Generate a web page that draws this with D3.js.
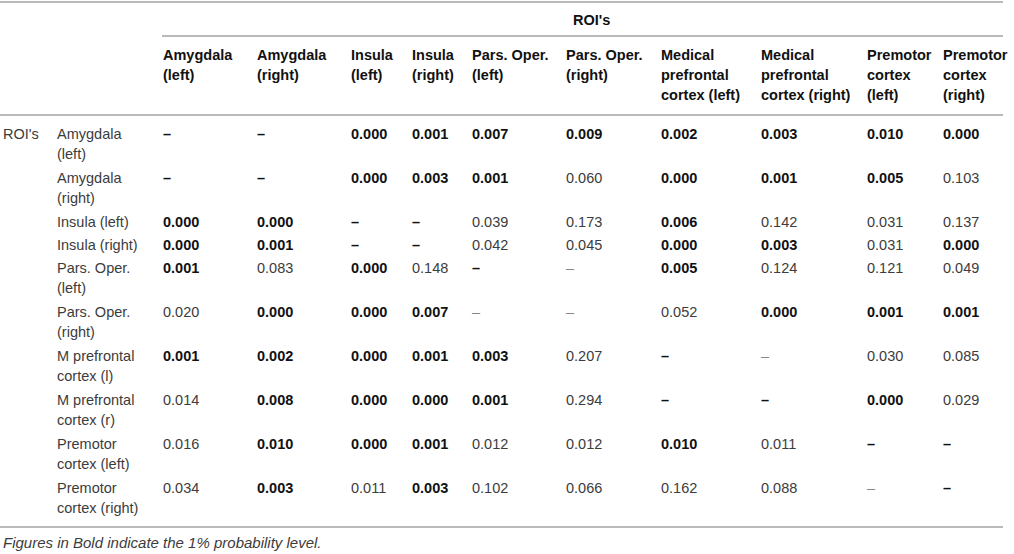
<!DOCTYPE html>
<html>
<head>
  <title>ROI table</title>
  <script src="https://d3js.org/d3.v7.min.js"></script>
  <style>
    body { margin: 0; background: #fff; }
    svg text { font-family: "Liberation Sans", Arial, Helvetica, sans-serif; }
  </style>
</head>
<body>
  <div id="table"></div>
  <script>
    // Column headers (one entry per text line)
    const columns = [
      ["Amygdala", "(left)"],
      ["Amygdala", "(right)"],
      ["Insula", "(left)"],
      ["Insula", "(right)"],
      ["Pars. Oper.", "(left)"],
      ["Pars. Oper.", "(right)"],
      ["Medical", "prefrontal", "cortex (left)"],
      ["Medical", "prefrontal", "cortex (right)"],
      ["Premotor", "cortex", "(left)"],
      ["Premotor", "cortex", "(right)"]
    ];

    const rowLabels = [
      ["Amygdala", "(left)"],
      ["Amygdala", "(right)"],
      ["Insula (left)"],
      ["Insula (right)"],
      ["Pars. Oper.", "(left)"],
      ["Pars. Oper.", "(right)"],
      ["M prefrontal", "cortex (l)"],
      ["M prefrontal", "cortex (r)"],
      ["Premotor", "cortex (left)"],
      ["Premotor", "cortex (right)"]
    ];

    // p-values, null = no comparison (dash)
    const values = [
      [null, null, 0.000, 0.001, 0.007, 0.009, 0.002, 0.003, 0.010, 0.000],
      [null, null, 0.000, 0.003, 0.001, 0.060, 0.000, 0.001, 0.005, 0.103],
      [0.000, 0.000, null, null, 0.039, 0.173, 0.006, 0.142, 0.031, 0.137],
      [0.000, 0.001, null, null, 0.042, 0.045, 0.000, 0.003, 0.031, 0.000],
      [0.001, 0.083, 0.000, 0.148, null, null, 0.005, 0.124, 0.121, 0.049],
      [0.020, 0.000, 0.000, 0.007, null, null, 0.052, 0.000, 0.001, 0.001],
      [0.001, 0.002, 0.000, 0.001, 0.003, 0.207, null, null, 0.030, 0.085],
      [0.014, 0.008, 0.000, 0.000, 0.001, 0.294, null, null, 0.000, 0.029],
      [0.016, 0.010, 0.000, 0.001, 0.012, 0.012, 0.010, 0.011, null, null],
      [0.034, 0.003, 0.011, 0.003, 0.102, 0.066, 0.162, 0.088, null, null]
    ];

    // how each dash is printed in the source (bold or not), per row
    const dashBold = [
      [true, true], [true, true], [true, true], [true, true], [true, false],
      [false, false], [true, false], [true, true], [true, true], [false, true]
    ];

    const groupTitle = "ROI's";
    const footnote = "Figures in Bold indicate the 1% probability level.";
    const boldLimit = 0.010;

    // layout
    const width = 1014, height = 554;
    const colX = [163, 257, 351, 412, 472, 566, 661, 761, 867, 943];
    const labelX = 57, rightEdge = 1003;
    const lineH = 20, fontSize = 14.5;
    const ruleColor = "#a3a3a3";
    const regColor = "#3c3c3c", boldColor = "#111";

    const svg = d3.select("#table").append("svg")
      .attr("width", width)
      .attr("height", height);

    const x = d3.scaleOrdinal().domain(d3.range(columns.length)).range(colX);

    // row centre positions, built up from line counts
    const rowY = [];
    let yPos = 134;
    rowLabels.forEach(l => {
      rowY.push(yPos);
      yPos += l.length * lineH + (l.length - 1) + 3;
    });
    const tableBottom = rowY[rowY.length - 1] + (rowLabels[rowLabels.length - 1].length - 1) * lineH + 19;

    // rules
    const rules = [
      { x1: 0, x2: rightEdge, y: 2 },
      { x1: 162, x2: rightEdge, y: 36 },
      { x1: 0, x2: rightEdge, y: 115 },
      { x1: 0, x2: rightEdge, y: tableBottom }
    ];
    svg.selectAll("line.rule")
      .data(rules)
      .enter()
      .append("line")
      .attr("class", "rule")
      .attr("x1", d => d.x1)
      .attr("x2", d => d.x2)
      .attr("y1", d => d.y)
      .attr("y2", d => d.y)
      .attr("stroke", ruleColor)
      .attr("stroke-width", 1.5);

    // group title
    svg.append("text")
      .attr("x", 573)
      .attr("y", 20)
      .attr("dy", "0.35em")
      .attr("font-size", fontSize)
      .attr("font-weight", "bold")
      .attr("fill", boldColor)
      .text(groupTitle);

    // column headers
    const head = svg.selectAll("text.head")
      .data(columns)
      .enter()
      .append("text")
      .attr("class", "head")
      .attr("font-size", fontSize)
      .attr("font-weight", "bold")
      .attr("fill", boldColor);
    head.selectAll("tspan")
      .data((d, i) => d.map(t => ({ t, i })))
      .enter()
      .append("tspan")
      .attr("x", d => x(d.i))
      .attr("y", (d, j) => 55 + j * lineH)
      .attr("dy", "0.35em")
      .text(d => d.t);

    // "ROI's" row group label
    svg.append("text")
      .attr("x", 3)
      .attr("y", rowY[0])
      .attr("dy", "0.35em")
      .attr("font-size", fontSize)
      .attr("fill", regColor)
      .text(groupTitle);

    // row labels
    const lab = svg.selectAll("text.rowlab")
      .data(rowLabels)
      .enter()
      .append("text")
      .attr("class", "rowlab")
      .attr("font-size", fontSize)
      .attr("fill", regColor);
    lab.selectAll("tspan")
      .data((d, i) => d.map(t => ({ t, i })))
      .enter()
      .append("tspan")
      .attr("x", labelX)
      .attr("y", (d, j) => rowY[d.i] + j * lineH)
      .attr("dy", "0.35em")
      .text(d => d.t);

    // cells
    const cells = [];
    values.forEach((row, r) => {
      let k = 0;
      row.forEach((v, c) => {
        let bold;
        if (v === null) { bold = dashBold[r][k]; k++; }
        else bold = v <= boldLimit;
        cells.push({ r, c, v, bold });
      });
    });

    svg.selectAll("text.cell")
      .data(cells)
      .enter()
      .append("text")
      .attr("class", "cell")
      .attr("x", d => x(d.c))
      .attr("y", d => rowY[d.r])
      .attr("dy", "0.35em")
      .attr("font-size", fontSize)
      .attr("font-weight", d => d.bold ? "bold" : "normal")
      .attr("fill", d => d.bold ? boldColor : (d.v === null ? "#888" : regColor))
      .text(d => d.v === null ? "–" : d3.format(".3f")(d.v));

    // footnote
    svg.append("text")
      .attr("x", 3)
      .attr("y", 543)
      .attr("dy", "0.35em")
      .attr("font-size", 15)
      .attr("font-style", "italic")
      .attr("fill", regColor)
      .text(footnote);
  </script>
</body>
</html>
